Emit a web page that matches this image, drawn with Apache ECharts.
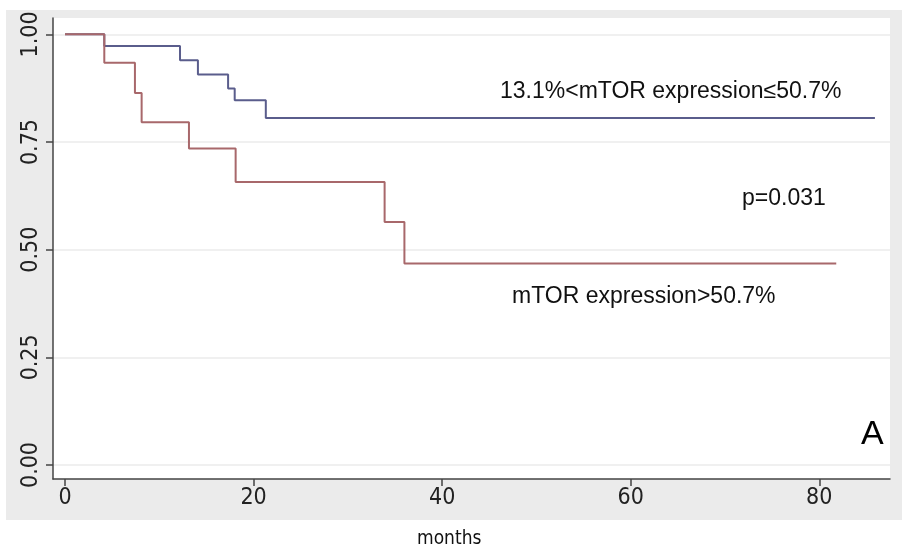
<!DOCTYPE html>
<html>
<head>
<meta charset="utf-8">
<script src="https://cdn.jsdelivr.net/npm/echarts@6/dist/echarts.min.js"></script>
<style>
html,body{margin:0;padding:0;background:#fff;}
#chart{width:907px;height:556px;}
</style>
</head>
<body>
<div id="chart"></div>
<script>
// Kaplan-Meier step data
const midTimes = [0, 4.17, 12.2, 14.1, 17.3, 18.0, 21.3, 85.9];
const midSurv  = [1, 0.973, 0.94, 0.907, 0.874, 0.847, 0.806, 0.806];
const highTimes = [0, 4.17, 7.42, 8.13, 13.15, 18.1, 33.9, 36.0, 81.8];
const highSurv  = [1, 0.934, 0.864, 0.796, 0.735, 0.657, 0.564, 0.468, 0.468];
const xTicks = [0, 20, 40, 60, 80];
const yTicks = [0, 0.25, 0.5, 0.75, 1];
const yTickLabels = ['0.00', '0.25', '0.50', '0.75', '1.00'];
const labelMid = '13.1%<mTOR expression≤50.7%';
const labelHigh = 'mTOR expression>50.7%';
const pText = 'p=0.031';
const panel = 'A';
const xName = 'months';

const pairs = (t, s) => t.map((v, i) => [v, s[i]]);
const chart = echarts.init(document.getElementById('chart'));
const tickFont = '"Liberation Sans Narrow","DejaVu Sans Condensed",sans-serif';
const txtFont = '"Liberation Sans",Arial,sans-serif';
chart.setOption({
  animation: false,
  backgroundColor: '#ffffff',
  graphic: [
    {type: 'rect', z: -10, shape: {x: 6, y: 10, width: 896, height: 510}, style: {fill: '#ebebeb'}, silent: true},
    {type: 'text', z: 10, left: 500, top: 80, style: {text: labelMid, font: '23px ' + txtFont, fill: '#111'}},
    {type: 'text', z: 10, left: 742, top: 187, style: {text: pText, font: '23px ' + txtFont, fill: '#111'}},
    {type: 'text', z: 10, left: 512, top: 285, style: {text: labelHigh, font: '23px ' + txtFont, fill: '#111'}},
    {type: 'text', z: 10, left: 861, top: 418, style: {text: panel, font: '34px ' + txtFont, fill: '#000'}},
    {type: 'text', z: 10, left: 417, top: 530, style: {text: xName, font: '19px ' + tickFont, fill: '#111'}}
  ],
  grid: {left: 53, right: 17, top: 18, bottom: 77, show: true, backgroundColor: '#ffffff', borderWidth: 0},
  xAxis: {
    type: 'value', min: -1.27, max: 87.5,
    axisLine: {show: true, onZero: false, lineStyle: {color: '#444', width: 1.5}},
    axisTick: {show: true, length: 7, customValues: xTicks, lineStyle: {color: '#444', width: 1.5}},
    axisLabel: {customValues: xTicks, fontFamily: tickFont, fontSize: 23, color: '#222', margin: 8},
    splitLine: {show: false}
  },
  yAxis: {
    type: 'value', min: -0.0325, max: 1.038,
    axisLine: {show: true, onZero: false, lineStyle: {color: '#444', width: 1.5}},
    axisTick: {show: true, length: 7, customValues: yTicks, lineStyle: {color: '#444', width: 1.5}},
    axisLabel: {customValues: yTicks, rotate: 90, fontFamily: tickFont, fontSize: 23, color: '#222', margin: 10,
      formatter: v => yTickLabels[yTicks.indexOf(+v.toFixed(2))] ?? ''},
    splitLine: {show: true, lineStyle: {color: '#f0f0f0', width: 2}}
  },
  series: [
    {type: 'line', step: 'end', data: pairs(midTimes, midSurv), showSymbol: false, symbol: 'none',
      lineStyle: {color: '#5a5d8c', width: 2}, z: 2},
    {type: 'line', step: 'end', data: pairs(highTimes, highSurv), showSymbol: false, symbol: 'none',
      lineStyle: {color: '#a8686b', width: 2}, z: 3}
  ]
});
</script>
</body>
</html>
